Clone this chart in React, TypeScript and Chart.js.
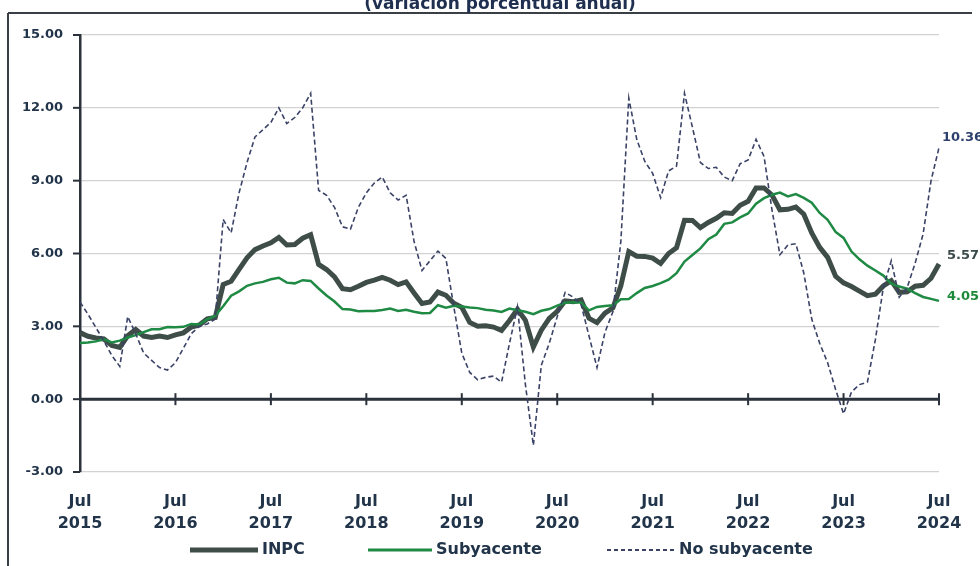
import React, { useEffect, useRef } from 'react';
import { Chart, registerables } from 'chart.js';

Chart.register(...registerables);

// Monthly categories: Jul 2015 ... Jul 2024
const monthNames = ['Ene', 'Feb', 'Mar', 'Abr', 'May', 'Jun', 'Jul', 'Ago', 'Sep', 'Oct', 'Nov', 'Dic'];
const categories: string[] = [];
for (let i = 0; i < 109; i++) {
  const m = (6 + i) % 12;
  const y = 2015 + Math.floor((6 + i) / 12);
  categories.push(`${monthNames[m]} ${y}`);
}

const yTicks = [-3, 0, 3, 6, 9, 12, 15];

const inpc = [
  2.74, 2.59, 2.52, 2.48, 2.21, 2.13,
  2.61, 2.87, 2.60, 2.54, 2.60, 2.54, 2.65, 2.73, 2.97, 3.06, 3.31, 3.36,
  4.72, 4.86, 5.35, 5.82, 6.16, 6.31, 6.44, 6.66, 6.35, 6.37, 6.63, 6.77,
  5.55, 5.34, 5.04, 4.55, 4.51, 4.65, 4.81, 4.90, 5.02, 4.90, 4.72, 4.83,
  4.37, 3.94, 4.00, 4.41, 4.28, 3.95, 3.78, 3.16, 3.00, 3.02, 2.97, 2.83,
  3.24, 3.70, 3.25, 2.15, 2.84, 3.33, 3.62, 4.05, 4.01, 4.09, 3.33, 3.15,
  3.54, 3.76, 4.67, 6.08, 5.89, 5.88, 5.81, 5.59, 6.00, 6.24, 7.37, 7.36,
  7.07, 7.28, 7.45, 7.68, 7.65, 7.99, 8.15, 8.70, 8.70, 8.41, 7.80, 7.82,
  7.91, 7.62, 6.85, 6.25, 5.84, 5.06, 4.79, 4.64, 4.45, 4.26, 4.32, 4.66,
  4.88, 4.40, 4.42, 4.65, 4.69, 4.98, 5.57,
];

const subyacente = [
  2.31, 2.33, 2.38, 2.47, 2.34, 2.41,
  2.54, 2.64, 2.76, 2.88, 2.88, 2.97, 2.96, 2.98, 3.10, 3.08, 3.29, 3.44,
  3.83, 4.26, 4.44, 4.67, 4.77, 4.83, 4.94, 5.00, 4.80, 4.77, 4.90, 4.87,
  4.56, 4.27, 4.02, 3.71, 3.69, 3.62, 3.63, 3.63, 3.67, 3.73, 3.63, 3.68,
  3.60, 3.54, 3.55, 3.87, 3.77, 3.85, 3.82, 3.78, 3.75, 3.68, 3.65, 3.59,
  3.73, 3.66, 3.60, 3.50, 3.64, 3.71, 3.85, 3.97, 3.99, 3.98, 3.66, 3.80,
  3.84, 3.87, 4.12, 4.13, 4.37, 4.58, 4.66, 4.78, 4.92, 5.19, 5.67, 5.94,
  6.21, 6.59, 6.78, 7.22, 7.28, 7.49, 7.65, 8.05, 8.28, 8.42, 8.51, 8.35,
  8.45, 8.29, 8.09, 7.67, 7.39, 6.89, 6.64, 6.08, 5.76, 5.50, 5.30, 5.09,
  4.76, 4.64, 4.55, 4.37, 4.21, 4.13, 4.05,
];

const noSubyacente = [
  4.0, 3.5, 2.95, 2.4, 1.8, 1.35,
  3.4, 2.7, 1.9, 1.6, 1.3, 1.2, 1.5, 2.1, 2.7, 3.0, 3.1, 3.3,
  7.4, 6.85, 8.5, 9.75, 10.8, 11.1, 11.4, 12.0, 11.35, 11.6, 12.0, 12.6,
  8.6, 8.4, 7.9, 7.1, 7.0, 7.9, 8.5, 8.9, 9.15, 8.5, 8.2, 8.4,
  6.5, 5.3, 5.7, 6.1, 5.8, 3.8, 1.9, 1.1, 0.8, 0.9, 0.95, 0.7,
  2.3, 3.8, 0.6, -1.9, 1.4, 2.3, 3.4, 4.4, 4.2, 3.9, 2.6, 1.3,
  2.75, 3.6, 6.5, 12.4, 10.7, 9.8, 9.3, 8.3, 9.4, 9.6, 12.6, 11.2,
  9.75, 9.5, 9.55, 9.15, 9.0, 9.7, 9.85, 10.7, 10.0, 7.8, 5.95, 6.35,
  6.4, 5.2, 3.3, 2.3, 1.5, 0.4, -0.6, 0.3, 0.6, 0.7, 2.45, 4.6,
  5.7, 4.2, 4.6, 5.6, 6.8, 9.0, 10.36,
];

const seriesNames = ['INPC', 'Subyacente', 'No subyacente'];
const titleText = '(variación porcentual anual)';

const COL_INPC = '#3f4d49';
const COL_SUB = '#1f8a44';
const COL_NOSUB = '#3a4266';
const COL_TEXT = '#213449';
const FONT = "'DejaVu Sans', 'Liberation Sans', sans-serif";

const decorPlugin = {
  id: 'decor',
  beforeDraw(chart: any) {
    const ctx = chart.ctx;
    ctx.save();
    ctx.fillStyle = '#ffffff';
    ctx.fillRect(0, 0, chart.width, chart.height);
    // frame
    ctx.strokeStyle = '#3a3f45';
    ctx.lineWidth = 2;
    ctx.beginPath();
    ctx.moveTo(8, 13);
    ctx.lineTo(972, 13);
    ctx.moveTo(8, 13);
    ctx.lineTo(8, chart.height);
    ctx.stroke();
    // cropped title
    ctx.fillStyle = '#1f2f50';
    ctx.font = `bold 17px ${FONT}`;
    ctx.textAlign = 'center';
    ctx.textBaseline = 'alphabetic';
    ctx.fillText(titleText, 500, 9);
    ctx.restore();
  },
  beforeDatasetsDraw(chart: any) {
    const ctx = chart.ctx;
    const xs = chart.scales.x;
    const ys = chart.scales.y;
    const area = chart.chartArea;
    ctx.save();
    // y-axis small tick marks
    ctx.strokeStyle = '#2b323c';
    ctx.lineWidth = 2;
    yTicks.forEach((v) => {
      const y = ys.getPixelForValue(v);
      ctx.beginPath();
      ctx.moveTo(area.left - 7, y);
      ctx.lineTo(area.left, y);
      ctx.stroke();
    });
    // zero line
    const y0 = ys.getPixelForValue(0);
    ctx.lineWidth = 3;
    ctx.strokeStyle = '#2b323c';
    ctx.beginPath();
    ctx.moveTo(area.left, y0);
    ctx.lineTo(area.right, y0);
    ctx.stroke();
    // July tick marks on zero line
    ctx.lineWidth = 2;
    categories.forEach((c, i) => {
      if (c.startsWith('Jul') && i > 0) {
        const x = xs.getPixelForValue(i);
        ctx.beginPath();
        ctx.moveTo(x, y0 - 6);
        ctx.lineTo(x, y0 + 6);
        ctx.stroke();
      }
    });
    ctx.restore();
  },
  afterDatasetsDraw(chart: any) {
    const ctx = chart.ctx;
    ctx.save();
    // end labels
    const ends = [
      { ds: 2, data: noSubyacente, color: '#2e3f6e', dx: 3, dy: -10 },
      { ds: 0, data: inpc, color: '#3b4a4a', dx: 8, dy: -8 },
      { ds: 1, data: subyacente, color: '#1d8a3a', dx: 8, dy: -4 },
    ];
    ctx.font = `bold 13px ${FONT}`;
    ctx.textAlign = 'left';
    ctx.textBaseline = 'middle';
    ends.forEach((e) => {
      const meta = chart.getDatasetMeta(e.ds);
      const pt = meta.data[meta.data.length - 1];
      ctx.fillStyle = e.color;
      ctx.fillText(e.data[e.data.length - 1].toFixed(2), pt.x + e.dx, pt.y + e.dy);
    });
    // legend
    const ly = 550;
    const items = [
      { name: seriesNames[0], color: COL_INPC, width: 5, dash: [] as number[], x0: 190, x1: 258 },
      { name: seriesNames[1], color: COL_SUB, width: 3, dash: [] as number[], x0: 368, x1: 432 },
      { name: seriesNames[2], color: COL_NOSUB, width: 2, dash: [4, 3], x0: 607, x1: 675 },
    ];
    ctx.font = `bold 16px ${FONT}`;
    items.forEach((it) => {
      ctx.strokeStyle = it.color;
      ctx.lineWidth = it.width;
      ctx.setLineDash(it.dash);
      ctx.beginPath();
      ctx.moveTo(it.x0, ly);
      ctx.lineTo(it.x1, ly);
      ctx.stroke();
      ctx.setLineDash([]);
      ctx.fillStyle = COL_TEXT;
      ctx.fillText(it.name, it.x1 + 4, ly);
    });
    ctx.restore();
  },
};

export default function App() {
  const ref = useRef<HTMLCanvasElement | null>(null);
  useEffect(() => {
    if (!ref.current) return;
    const chart = new Chart(ref.current, {
      type: 'line',
      data: {
        labels: categories,
        datasets: [
          {
            label: seriesNames[0],
            data: inpc,
            borderColor: COL_INPC,
            borderWidth: 5,
            pointRadius: 0,
            tension: 0,
            order: 2,
          },
          {
            label: seriesNames[1],
            data: subyacente,
            borderColor: COL_SUB,
            borderWidth: 2.5,
            pointRadius: 0,
            tension: 0,
            order: 1,
          },
          {
            label: seriesNames[2],
            data: noSubyacente,
            borderColor: COL_NOSUB,
            borderWidth: 1.6,
            borderDash: [5, 3],
            pointRadius: 0,
            tension: 0,
            order: 0,
          },
        ],
      },
      options: {
        responsive: false,
        animation: false,
        devicePixelRatio: 1,
        layout: { padding: { left: 0, right: 41, top: 35, bottom: 34 } },
        plugins: {
          legend: { display: false },
          tooltip: { enabled: false },
          title: { display: false },
        },
        scales: {
          x: {
            type: 'category',
            offset: false,
            grid: { display: false },
            border: { display: false },
            afterFit: (s: any) => {
              s.height = 60;
            },
            ticks: {
              autoSkip: false,
              maxRotation: 0,
              minRotation: 0,
              padding: 11,
              color: COL_TEXT,
              font: { family: FONT, weight: 'bold', size: 16, lineHeight: 1.35 },
              callback: (_v: any, i: number) => {
                const c = categories[i];
                if (c && c.startsWith('Jul')) return ['Jul', c.split(' ')[1]];
                return '';
              },
            },
          },
          y: {
            min: -3,
            max: 15,
            afterFit: (s: any) => {
              s.width = 80;
            },
            border: { display: true, color: '#2b323c', width: 2.5 },
            grid: { color: '#d2d2d2', lineWidth: 1.3, drawTicks: false },
            ticks: {
              stepSize: 3,
              padding: 17,
              color: COL_TEXT,
              font: { family: FONT, weight: 'bold', size: 13 },
              callback: (v: any) => Number(v).toFixed(2),
            },
          },
        },
      },
      plugins: [decorPlugin],
    } as any);
    return () => chart.destroy();
  }, []);
  return (
    <div style={{ position: 'absolute', left: 0, top: 0, width: 980, height: 566, background: '#fff' }}>
      <canvas ref={ref} width={980} height={566} />
    </div>
  );
}
